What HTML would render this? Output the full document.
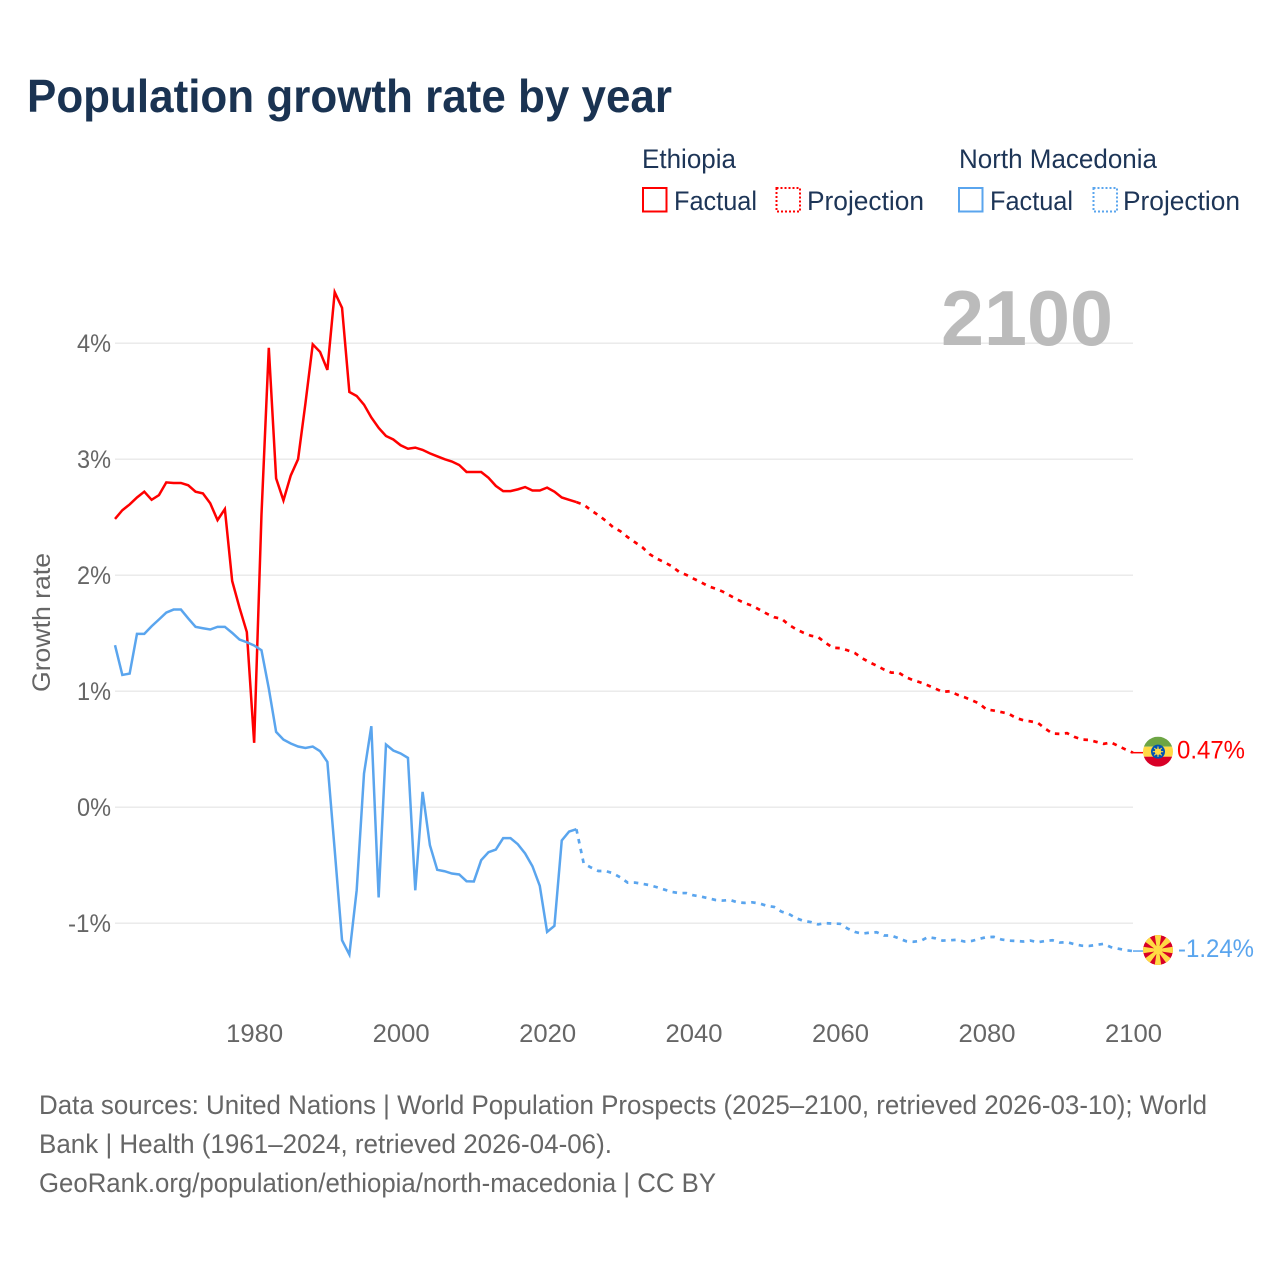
<!DOCTYPE html>
<html lang="en">
<head>
<meta charset="utf-8">
<title>Population growth rate by year</title>
<style>
html,body{margin:0;padding:0;background:#fff;}
svg{display:block;}
text{font-family:"Liberation Sans",sans-serif;}
</style>
</head>
<body>
<svg id="chart" xmlns="http://www.w3.org/2000/svg" width="1280" height="1280" viewBox="0 0 1280 1280">
  <defs>
    <clipPath id="flag-clip"><circle cx="0" cy="0" r="15"/></clipPath>
  </defs>
  <rect x="0" y="0" width="1280" height="1280" fill="#fff"/>
  <text x="27" y="112" font-size="46" font-weight="700" fill="#1a3352" textLength="645" lengthAdjust="spacingAndGlyphs">Population growth rate by year</text>

  <g font-size="27" fill="#1d3557">
    <text x="642" y="168" textLength="94" lengthAdjust="spacingAndGlyphs">Ethiopia</text>
    <rect x="643" y="188" width="23.5" height="23.5" fill="none" stroke="#ff0000" stroke-width="2"/>
    <text x="674" y="210" textLength="83" lengthAdjust="spacingAndGlyphs">Factual</text>
    <rect x="776.5" y="188" width="23.5" height="23.5" fill="none" stroke="#ff0000" stroke-width="2" stroke-dasharray="2 2"/>
    <text x="807" y="210" textLength="117" lengthAdjust="spacingAndGlyphs">Projection</text>
    <text x="959" y="168" textLength="198" lengthAdjust="spacingAndGlyphs">North Macedonia</text>
    <rect x="959" y="188" width="23.5" height="23.5" fill="none" stroke="#5aa5ee" stroke-width="2"/>
    <text x="990" y="210" textLength="83" lengthAdjust="spacingAndGlyphs">Factual</text>
    <rect x="1093.5" y="188" width="23.5" height="23.5" fill="none" stroke="#5aa5ee" stroke-width="2" stroke-dasharray="2 2"/>
    <text x="1123" y="210" textLength="117" lengthAdjust="spacingAndGlyphs">Projection</text>
  </g>

  <g id="grid"></g>
  <text x="941" y="345" font-size="78" font-weight="700" fill="#bbbbbb" textLength="172" lengthAdjust="spacingAndGlyphs">2100</text>
  <g id="y-ticks" font-size="25" fill="#666"></g>
  <g id="x-ticks" font-size="25" fill="#666"></g>
  <text transform="translate(50,622.5) rotate(-90)" text-anchor="middle" font-size="25" fill="#666" textLength="139" lengthAdjust="spacingAndGlyphs">Growth rate</text>
  <g id="series"></g>

  <g id="flag-ethiopia">
    <g clip-path="url(#flag-clip)">
      <rect x="-15" y="-15" width="30" height="10" fill="#6da544"/>
      <rect x="-15" y="-5" width="30" height="10" fill="#ffda44"/>
      <rect x="-15" y="5" width="30" height="10" fill="#d80027"/>
    </g>
    <circle cx="0" cy="0" r="7" fill="#0052b4"/>
    <circle cx="0" cy="0" r="3.2" fill="#ffda44"/>
    <g stroke="#ffda44" stroke-width="1.1">
      <line x1="0" y1="-5.2" x2="0" y2="5.2"/>
      <line x1="-5.2" y1="0" x2="5.2" y2="0"/>
      <line x1="-3.7" y1="-3.7" x2="3.7" y2="3.7"/>
      <line x1="-3.7" y1="3.7" x2="3.7" y2="-3.7"/>
    </g>
  </g>
  <g id="flag-macedonia">
    <g clip-path="url(#flag-clip)">
      <circle cx="0" cy="0" r="15" fill="#d80027"/>
      <g fill="#ffda44">
        <polygon points="-3.4,-16 3.4,-16 1,0 -1,0"/>
        <polygon points="-3.4,-16 3.4,-16 1,0 -1,0" transform="rotate(45)"/>
        <polygon points="-3.4,-16 3.4,-16 1,0 -1,0" transform="rotate(90)"/>
        <polygon points="-3.4,-16 3.4,-16 1,0 -1,0" transform="rotate(135)"/>
        <polygon points="-3.4,-16 3.4,-16 1,0 -1,0" transform="rotate(180)"/>
        <polygon points="-3.4,-16 3.4,-16 1,0 -1,0" transform="rotate(225)"/>
        <polygon points="-3.4,-16 3.4,-16 1,0 -1,0" transform="rotate(270)"/>
        <polygon points="-3.4,-16 3.4,-16 1,0 -1,0" transform="rotate(315)"/>
      </g>
      <circle cx="0" cy="0" r="4.4" fill="#ffda44"/>
    </g>
  </g>
  <g id="end-labels" font-size="25"></g>

  <g font-size="27" fill="#666">
    <text x="39" y="1114" textLength="1168" lengthAdjust="spacingAndGlyphs">Data sources: United Nations | World Population Prospects (2025–2100, retrieved 2026-03-10); World</text>
    <text x="39" y="1153" textLength="573" lengthAdjust="spacingAndGlyphs">Bank | Health (1961–2024, retrieved 2026-04-06).</text>
    <text x="39" y="1192" textLength="677" lengthAdjust="spacingAndGlyphs">GeoRank.org/population/ethiopia/north-macedonia | CC BY</text>
  </g>
</svg>
<script>
const factualStartYear = 1961;
const projectionStartYear = 2024;
const yTickValues = [4, 3, 2, 1, 0, -1];
const yTickLabels = ["4%", "3%", "2%", "1%", "0%", "-1%"];
const xTickValues = [1980, 2000, 2020, 2040, 2060, 2080, 2100];
const xTickLabels = ["1980", "2000", "2020", "2040", "2060", "2080", "2100"];

const ethiopiaFactual = [2.485,2.56,2.61,2.67,2.72,2.65,2.69,2.80,2.795,2.795,2.775,2.72,2.705,2.62,2.475,2.57,1.95,1.72,1.51,0.555,2.52,3.96,2.835,2.645,2.86,3.0,3.48,3.99,3.925,3.77,4.44,4.305,3.58,3.545,3.47,3.36,3.27,3.2,3.17,3.12,3.09,3.10,3.08,3.05,3.025,3.0,2.98,2.95,2.89,2.89,2.89,2.84,2.77,2.725,2.725,2.74,2.76,2.73,2.73,2.755,2.72,2.67,2.65,2.63];
const ethiopiaProjection = [2.63,2.608,2.56,2.517,2.47,2.414,2.379,2.328,2.284,2.241,2.181,2.142,2.112,2.078,2.03,2.003,1.97,1.94,1.905,1.884,1.858,1.823,1.789,1.759,1.737,1.703,1.668,1.638,1.625,1.573,1.534,1.504,1.478,1.466,1.418,1.375,1.371,1.353,1.33,1.285,1.25,1.22,1.187,1.16,1.16,1.12,1.095,1.075,1.05,1.023,0.994,1.0,0.97,0.948,0.922,0.894,0.842,0.833,0.82,0.807,0.77,0.75,0.74,0.727,0.678,0.635,0.632,0.638,0.606,0.583,0.58,0.563,0.546,0.558,0.528,0.497,0.47];
const macedoniaFactual = [1.397,1.14,1.152,1.494,1.494,1.56,1.618,1.678,1.704,1.704,1.627,1.555,1.543,1.532,1.555,1.555,1.503,1.445,1.422,1.394,1.353,1.023,0.649,0.583,0.549,0.523,0.511,0.523,0.483,0.39,-0.37,-1.147,-1.27,-0.716,0.29,0.698,-0.778,0.54,0.489,0.463,0.425,-0.716,0.132,-0.328,-0.54,-0.552,-0.572,-0.58,-0.638,-0.64,-0.457,-0.388,-0.365,-0.267,-0.267,-0.319,-0.399,-0.509,-0.678,-1.075,-1.023,-0.287,-0.21,-0.19];
const macedoniaProjection = [-0.19,-0.485,-0.52,-0.55,-0.55,-0.57,-0.605,-0.65,-0.65,-0.66,-0.672,-0.69,-0.71,-0.73,-0.74,-0.74,-0.76,-0.77,-0.785,-0.80,-0.805,-0.80,-0.82,-0.825,-0.82,-0.83,-0.85,-0.86,-0.90,-0.92,-0.957,-0.98,-0.99,-1.01,-1.0,-1.003,-1.005,-1.045,-1.075,-1.09,-1.082,-1.078,-1.106,-1.106,-1.13,-1.155,-1.16,-1.153,-1.12,-1.13,-1.15,-1.147,-1.143,-1.158,-1.153,-1.135,-1.12,-1.118,-1.14,-1.15,-1.153,-1.158,-1.15,-1.164,-1.153,-1.147,-1.167,-1.164,-1.181,-1.194,-1.196,-1.187,-1.178,-1.207,-1.22,-1.233,-1.24];

const NS = 'http://www.w3.org/2000/svg';
const RED = '#ff0000';
const BLUE = '#5aa5ee';

function xScale(year) {
  return 115 + (year - 1961) * (1133 - 115) / (2100 - 1961);
}
function yScale(v) {
  return 807.2 - v * 116;
}
function linePath(values, startYear) {
  return values.map(function (v, i) {
    return (i ? 'L' : 'M') + xScale(startYear + i).toFixed(2) + ' ' + yScale(v).toFixed(2);
  }).join('');
}

const gridLayer = document.getElementById('grid');
const yTickLayer = document.getElementById('y-ticks');
const xTickLayer = document.getElementById('x-ticks');
const seriesLayer = document.getElementById('series');
const labelLayer = document.getElementById('end-labels');

yTickValues.forEach(function (v, i) {
  const line = document.createElementNS(NS, 'line');
  
  
  line.setAttribute('x1', xScale(1961));
  line.setAttribute('x2', xScale(2100));
  line.setAttribute('y1', yScale(v));
  line.setAttribute('y2', yScale(v));
  line.setAttribute('stroke', '#e8e8e8');
  line.setAttribute('stroke-width', '1.3');
  gridLayer.appendChild(line);

  const label = document.createElementNS(NS, 'text');
  
  
  label.setAttribute('x', 111);
  label.setAttribute('y', yScale(v) + 9);
  label.setAttribute('text-anchor', 'end');
  label.setAttribute('textLength', yTickLabels[i].length > 2 ? '43' : '34');
  label.setAttribute('lengthAdjust', 'spacingAndGlyphs');
  label.textContent = yTickLabels[i];
  yTickLayer.appendChild(label);
});

xTickValues.forEach(function (year, i) {
  const label = document.createElementNS(NS, 'text');
  
  
  label.setAttribute('x', xScale(year) + 0.5);
  label.setAttribute('y', 1042);
  label.setAttribute('text-anchor', 'middle');
  label.setAttribute('textLength', '57');
  label.setAttribute('lengthAdjust', 'spacingAndGlyphs');
  label.textContent = xTickLabels[i];
  xTickLayer.appendChild(label);
});

function drawLine(values, startYear, color, dashed, name) {
  const p = document.createElementNS(NS, 'path');
  
  
  p.setAttribute('d', linePath(values, startYear));
  p.setAttribute('fill', 'none');
  p.setAttribute('stroke', color);
  p.setAttribute('stroke-width', dashed ? '2.7' : '2.5');
  p.setAttribute('stroke-linejoin', 'miter');
  if (dashed) {
    p.setAttribute('stroke-dasharray', '4.5 5.5');
  }
  seriesLayer.appendChild(p);
}
drawLine(ethiopiaFactual, factualStartYear, RED, false, 'ethiopia-factual-line');
drawLine(ethiopiaProjection, projectionStartYear, RED, true, 'ethiopia-projection-line');
drawLine(macedoniaFactual, factualStartYear, BLUE, false, 'north-macedonia-factual-line');
drawLine(macedoniaProjection, projectionStartYear, BLUE, true, 'north-macedonia-projection-line');

function drawEnd(values, color, flagId, labelWidth, labelX, name) {
  const last = values[values.length - 1];
  const y = yScale(last);
  const conn = document.createElementNS(NS, 'line');
  
  
  conn.setAttribute('x1', xScale(2100));
  conn.setAttribute('x2', xScale(2100) + 10);
  conn.setAttribute('y1', y);
  conn.setAttribute('y2', y);
  conn.setAttribute('stroke', color);
  conn.setAttribute('stroke-width', '1.5');
  seriesLayer.appendChild(conn);

  document.getElementById(flagId).setAttribute('transform', 'translate(1158,' + (y - 1).toFixed(2) + ')');

  const label = document.createElementNS(NS, 'text');
  
  
  label.setAttribute('x', labelX);
  label.setAttribute('y', y + 6);
  label.setAttribute('fill', color);
  label.setAttribute('textLength', labelWidth);
  label.setAttribute('lengthAdjust', 'spacingAndGlyphs');
  label.textContent = last.toFixed(2) + '%';
  labelLayer.appendChild(label);
}
drawEnd(ethiopiaProjection, RED, 'flag-ethiopia', 68, 1177, 'ethiopia');
drawEnd(macedoniaProjection, BLUE, 'flag-macedonia', 76, 1178, 'north-macedonia');
</script>
</body>
</html>
